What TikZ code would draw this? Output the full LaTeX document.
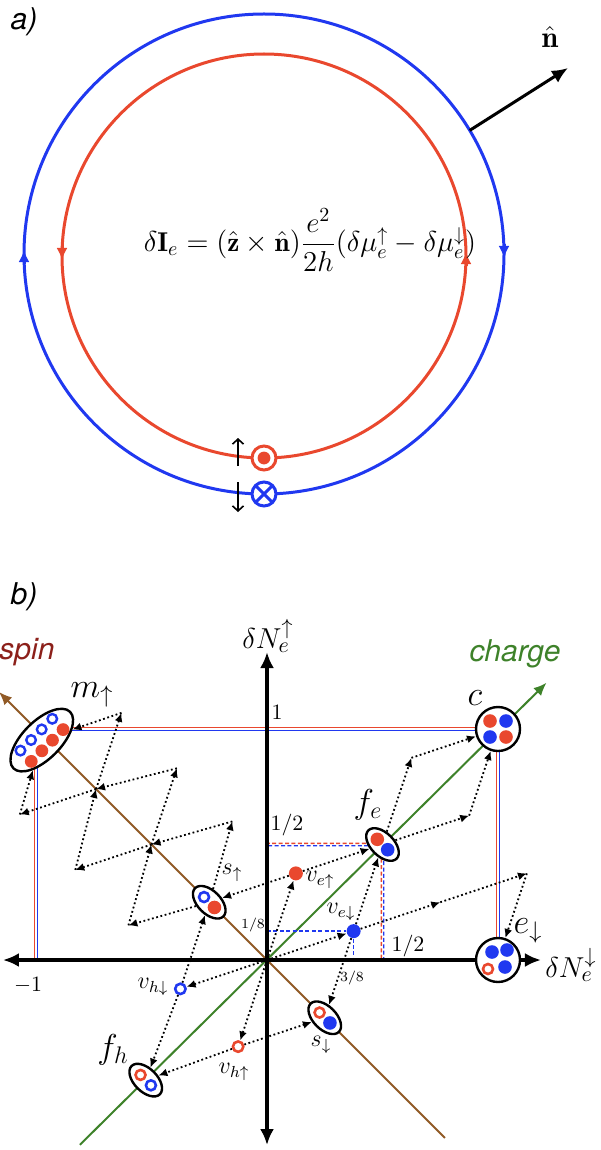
\documentclass[tikz,border=0pt]{standalone}
\usepackage{amsmath}
\usepackage{fontspec}
\newfontfamily\tagfont{TeX Gyre Heros}
\usetikzlibrary{arrows.meta,positioning,shapes.geometric,calc,backgrounds}

\definecolor{loopred}{RGB}{233,72,46}
\definecolor{loopblue}{RGB}{32,56,240}
\definecolor{chargegreen}{RGB}{62,130,42}
\definecolor{spinbrown}{RGB}{145,90,38}
\definecolor{spintext}{RGB}{140,32,26}

\begin{document}
\begin{tikzpicture}[
    x=0.5pt, y=-0.5pt,
    >={Latex[length=4.5pt,width=4pt]},
    loopcirc/.style={
        circle,
        draw=#1,
        line width=1.5pt,
        inner sep=0pt,
        outer sep=0pt
    },
    loopmark/.style={draw=#1, line width=1.5pt, -{Latex[length=6pt,width=5.5pt]}},
    spinmark/.style={line width=0.8pt, -{Straight Barb[length=2.5pt,width=5.5pt]}},
    axisline/.style={line width=1.6pt, {Latex[length=8pt,width=7pt]}-{Latex[length=8pt,width=7pt]}},
    diag/.style={line width=1pt, draw=#1, -{Latex[length=6.5pt,width=5.5pt]}},
    guide/.style={line width=0.6pt, draw=#1},
    halfline/.style={line width=0.7pt, draw=#1, dash pattern=on 2pt off 1.2pt},
    vec/.style={line width=0.9pt, dash pattern=on 0.9pt off 1.3pt, ->},
    fulldot/.style={circle, fill=#1, inner sep=0pt, minimum size=7pt},
    opendot/.style={circle, draw=#1, fill=white, line width=1.3pt, inner sep=0pt, minimum size=5.2pt},
    pair/.style={
        ellipse,
        draw,
        fill=white,
        line width=1.2pt,
        inner sep=0pt,
        minimum width=20pt,
        minimum height=11.5pt,
        rotate=#1
    },
    bag/.style={circle, draw, fill=white, line width=1.2pt, inner sep=0pt, minimum size=22pt},
    bigname/.style={font=\fontsize{17}{20}\selectfont},
    vname/.style={font=\fontsize{11.5}{13}\selectfont},
    axislbl/.style={font=\fontsize{15}{17}\selectfont},
    ticklbl/.style={font=\fontsize{10.5}{12}\selectfont},
    smalltick/.style={font=\fontsize{7.5}{9}\selectfont},
    panel/.style={font=\tagfont\itshape\fontsize{15}{17}\selectfont}
]
\useasboundingbox (0,0) rectangle (600,1150);

% Panel a: the two edge loops
\node[panel] (taga) at (24,22) {a)};
\node[loopcirc=loopblue, minimum size=240pt] (outer) at (264,254) {};
\node[loopcirc=loopred, minimum size=202pt] (inner) at (264,256) {};

\draw[loopmark=loopblue] ([yshift=-5pt]outer.west) -- ([yshift=2pt]outer.west);
\draw[loopmark=loopblue] ([yshift=5pt]outer.east) -- ([yshift=-2pt]outer.east);
\draw[loopmark=loopred] ([yshift=5pt]inner.west) -- ([yshift=-2pt]inner.west);
\draw[loopmark=loopred] ([yshift=-5pt]inner.east) -- ([yshift=2pt]inner.east);

% normal vector
\coordinate (ntip) at (568,68);
\draw[line width=1.5pt, -{Latex[length=8pt,width=7pt]}] (outer.31) -- (ntip);
\node[font=\fontsize{15}{18}\selectfont] (nlbl) at (550,37) {$\hat{\mathbf{n}}$};

\node[font=\fontsize{13.6}{16}\selectfont] (current) at (310,240)
  {$\delta\mathbf{I}_e=(\hat{\mathbf{z}}\times\hat{\mathbf{n}})\dfrac{e^2}{2h}(\delta\mu_e^{\uparrow}-\delta\mu_e^{\downarrow})$};

% spin polarisation of each loop
\node[loopcirc=loopred, fill=white, minimum size=12pt] (upspin) at (inner.south) {};
\fill[loopred] (upspin) circle[radius=3.2pt];
\node[loopcirc=loopblue, fill=white, minimum size=12pt] (downspin) at (outer.south) {};
\draw[loopblue, line width=1.5pt] (downspin.north west) -- (downspin.south east)
  (downspin.north east) -- (downspin.south west);
\draw[spinmark] ([xshift=-13pt,yshift=-4pt]upspin.center) -- ([xshift=-13pt,yshift=10pt]upspin.center);
\draw[spinmark] ([xshift=-13pt,yshift=6pt]downspin.center) -- ([xshift=-13pt,yshift=-9pt]downspin.center);

% Panel b: charge/spin plane, unit = one electron
\node[panel] (tagb) at (24,597) {b)};
\begin{scope}[shift={(267,960)}, x=115.5pt, y=115.5pt]
\coordinate (O) at (0,0);
\coordinate (xneg) at (-1,0);
\coordinate (xpos) at (1,0);
\coordinate (yone) at (0,1);

% composite excitations
\node[bag] (c) at (1,1) {};
\node[bag] (ed) at (1,0) {};
\node[pair=45, minimum width=40pt, minimum height=19pt] (m) at (-0.975,0.952) {};
\node[pair=-45] (fe) at (0.5,0.5) {};
\node[pair=-45] (fh) at (-0.525,-0.52) {};
\node[pair=-45] (su) at (-0.25,0.25) {};
\node[pair=-45] (sd) at (0.25,-0.25) {};

% single vertex operators
\node[fulldot=loopred] (veu) at (0.125,0.375) {};
\node[fulldot=loopblue] (ved) at (0.375,0.125) {};
\node[opendot=loopblue] (vhd) at (-0.375,-0.125) {};
\node[opendot=loopred] (vhu) at (-0.125,-0.375) {};

% contents of the clusters
\fill[loopred] ($(c)+(-4pt,4pt)$) circle[radius=3.4pt];
\fill[loopblue] ($(c)+(4pt,4pt)$) circle[radius=3.4pt];
\fill[loopblue] ($(c)+(-4pt,-4pt)$) circle[radius=3.4pt];
\fill[loopred] ($(c)+(4pt,-4pt)$) circle[radius=3.4pt];

\fill[loopblue] ($(ed)+(-3pt,4pt)$) circle[radius=3.4pt];
\fill[loopblue] ($(ed)+(4.5pt,5pt)$) circle[radius=3.4pt];
\fill[loopblue] ($(ed)+(3.5pt,-3.5pt)$) circle[radius=3.4pt];
\draw[loopred, line width=1.3pt] ($(ed)+(-5pt,-4.5pt)$) circle[radius=2.5pt];

\draw[loopblue, line width=1.2pt] ($(m)+(-10.65pt,-5.25pt)$) circle[radius=2.4pt];
\draw[loopblue, line width=1.2pt] ($(m)+(-5.35pt,0.05pt)$) circle[radius=2.4pt];
\draw[loopblue, line width=1.2pt] ($(m)+(-0.05pt,5.35pt)$) circle[radius=2.4pt];
\draw[loopblue, line width=1.2pt] ($(m)+(5.25pt,10.65pt)$) circle[radius=2.4pt];
\fill[loopred] ($(m)+(-5.25pt,-10.65pt)$) circle[radius=3.2pt];
\fill[loopred] ($(m)+(0.05pt,-5.35pt)$) circle[radius=3.2pt];
\fill[loopred] ($(m)+(5.35pt,-0.05pt)$) circle[radius=3.2pt];
\fill[loopred] ($(m)+(10.65pt,5.25pt)$) circle[radius=3.2pt];

\fill[loopred] ($(fe)+(-2.6pt,2.6pt)$) circle[radius=3.4pt];
\fill[loopblue] ($(fe)+(2.6pt,-2.6pt)$) circle[radius=3.4pt];
\draw[loopblue, line width=1.3pt] ($(su)+(-2.6pt,2.6pt)$) circle[radius=2.5pt];
\fill[loopred] ($(su)+(2.6pt,-2.6pt)$) circle[radius=3.4pt];
\draw[loopred, line width=1.3pt] ($(sd)+(-2.6pt,2.6pt)$) circle[radius=2.5pt];
\fill[loopblue] ($(sd)+(2.6pt,-2.6pt)$) circle[radius=3.4pt];
\draw[loopred, line width=1.3pt] ($(fh)+(-2.6pt,2.6pt)$) circle[radius=2.5pt];
\draw[loopblue, line width=1.3pt] ($(fh)+(2.6pt,-2.6pt)$) circle[radius=2.5pt];

% corners of the addition parallelograms
\coordinate (feA) at (0.625,0.875);
\coordinate (feB) at (0.875,0.625);
\coordinate (ed1) at (0.75,0.25);
\coordinate (ed2) at (1.125,0.375);
\coordinate (suA) at (-0.15,0.6);
\coordinate (suB) at (-0.6,0.15);
\coordinate (su2) at (-0.5,0.5);
\coordinate (su2A) at (-0.39,0.83);
\coordinate (su2B) at (-0.83,0.39);
\coordinate (su3) at (-0.74,0.74);
\coordinate (su3A) at (-0.63,1.07);
\coordinate (su3B) at (-1.07,0.63);

\draw[vec] (O) -- (veu);
\draw[vec] (O) -- (ved);
\draw[vec] (O) -- (vhd);
\draw[vec] (O) -- (vhu);
\draw[vec] (veu) -- (fe);
\draw[vec] (ved) -- (fe);
\draw[vec] (veu) -- (su);
\draw[vec] (vhd) -- (su);
\draw[vec] (vhd) -- (fh);
\draw[vec] (vhu) -- (fh);
\draw[vec] (vhu) -- (sd);
\draw[vec] (ved) -- (sd);
\draw[vec] (fe) -- (feA);
\draw[vec] (feA) -- (c);
\draw[vec] (fe) -- (feB);
\draw[vec] (feB) -- (c);
\draw[vec] (ved) -- (ed1);
\draw[vec] (ed1) -- (ed2);
\draw[vec] (ed2) -- (ed);
\draw[vec] (su) -- (suA);
\draw[vec] (suA) -- (su2);
\draw[vec] (su) -- (suB);
\draw[vec] (suB) -- (su2);
\draw[vec] (su2) -- (su2A);
\draw[vec] (su2A) -- (su3);
\draw[vec] (su2) -- (su2B);
\draw[vec] (su2B) -- (su3);
\draw[vec] (su3) -- (su3A);
\draw[vec] (su3A) -- (m);
\draw[vec] (su3) -- (su3B);
\draw[vec] (su3B) -- (m);

% axes and guides sit behind the clusters
\begin{pgfonlayer}{background}
\coordinate (chargeA) at (-0.81,-0.8);
\coordinate (chargeB) at (1.21,1.2);
\coordinate (spinA) at (0.77,-0.77);
\coordinate (spinB) at (-1.16,1.16);
\draw[diag=chargegreen] (chargeA) -- (chargeB);
\draw[diag=spinbrown] (spinA) -- (spinB);

\draw[guide=loopred, transform canvas={xshift=-0.7pt,yshift=0.7pt}]
  (xneg) -- (xneg |- yone) -- (xpos |- yone) -- (xpos);
\draw[guide=loopblue, transform canvas={xshift=0.7pt,yshift=-0.7pt}]
  (xneg) -- (xneg |- yone) -- (xpos |- yone) -- (xpos);

\draw[halfline=loopred, transform canvas={xshift=-0.6pt,yshift=0.6pt}]
  (fe -| O) -- (fe) -- (fe |- O);
\draw[halfline=loopblue, transform canvas={xshift=0.6pt,yshift=-0.6pt}]
  (fe -| O) -- (fe) -- (fe |- O);
\draw[halfline=loopblue] (ved -| O) -- (ved) -- (ved |- O);

\coordinate (xl) at (-1.143,0);
\coordinate (xr) at (1.186,0);
\coordinate (yb) at (0,-0.801);
\coordinate (yt) at (0,1.333);
\draw[axisline] (xl) -- (xr);
\draw[axisline] (yb) -- (yt);
\end{pgfonlayer}
\end{scope}

% labels of panel b
\node[panel, text=spintext] (spinlbl) at (27,652) {spin};
\node[panel, text=chargegreen] (chargelbl) at (515,654) {charge};
\node[axislbl] (ylbl) at (268,636) {$\delta N_e^{\uparrow}$};
\node[axislbl] (xlbl) at (571,965) {$\delta N_e^{\downarrow}$};
\node[ticklbl] (yonelbl) at (277,712) {$1$};
\node[ticklbl] (xneglbl) at (28,985) {$-1$};
\node[ticklbl] (yhalflbl) at (287,825) {$1/2$};
\node[ticklbl] (xhalflbl) at (408,946) {$1/2$};
\node[smalltick] (yeighthlbl) at (253,925) {$1/8$};
\node[smalltick] (xthreelbl) at (352,978) {$3/8$};

\node[bigname] (mlbl) at (92,695) {$m_\uparrow$};
\node[bigname] (clbl) at (475,698) {$c$};
\node[bigname] (felbl) at (368,805) {$f_e$};
\node[bigname] (fhlbl) at (113,1050) {$f_h$};
\node[bigname] (edlbl) at (528,931) {$e_\downarrow$};
\node[vname] (sulbl) at (232,873) {$s_\uparrow$};
\node[vname] (sdlbl) at (321,1045) {$s_\downarrow$};
\node[vname] (veulbl) at (320,880) {$v_{e\uparrow}$};
\node[vname] (vedlbl) at (341,912) {$v_{e\downarrow}$};
\node[vname] (vhdlbl) at (153,987) {$v_{h\downarrow}$};
\node[vname] (vhulbl) at (234,1072) {$v_{h\uparrow}$};

\end{tikzpicture}
\end{document}
